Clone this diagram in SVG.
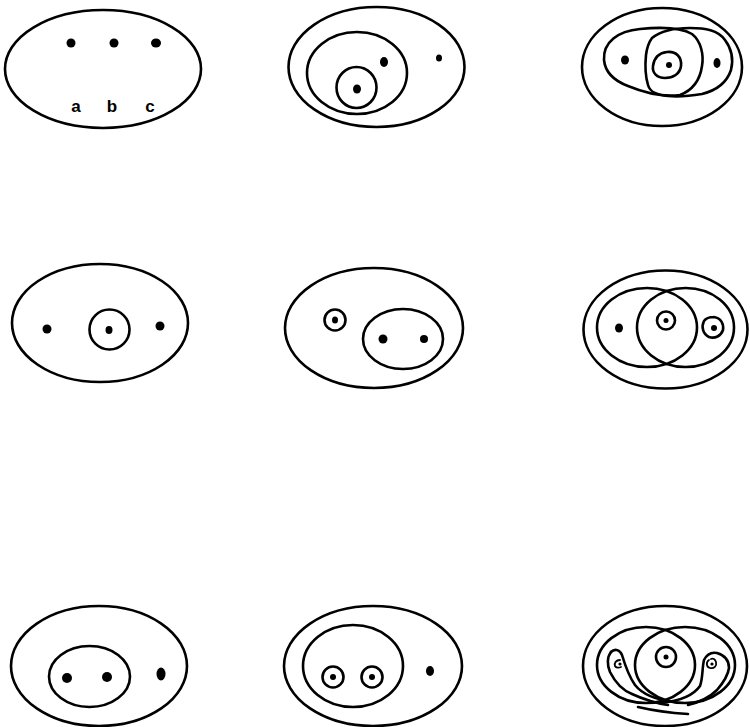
<svg xmlns="http://www.w3.org/2000/svg" width="750" height="727" viewBox="0 0 750 727">
<style>
.l{fill:none;stroke:#000;stroke-width:2.6;stroke-linecap:round;stroke-linejoin:round}
.t{fill:none;stroke:#000;stroke-width:1.8;stroke-linecap:round}
.d{fill:#000}
.lab{font-family:"Liberation Sans",Arial,sans-serif;font-size:17px;font-weight:bold;fill:#000}
</style>
<rect width="750" height="727" fill="#fff"/>
<g id="p1">
<ellipse class="l" cx="103" cy="69" rx="98" ry="59"/>
<ellipse class="d" cx="71" cy="43" rx="4.5" ry="4.5"/>
<ellipse class="d" cx="114" cy="43" rx="4.5" ry="4.5"/>
<ellipse class="d" cx="156" cy="43" rx="5" ry="4.5"/>
<text class="lab" x="76" y="112" text-anchor="middle">a</text>
<text class="lab" x="112" y="112" text-anchor="middle">b</text>
<text class="lab" x="150" y="112" text-anchor="middle">c</text>
</g>
<g id="p2">
<ellipse class="l" cx="376.5" cy="67" rx="88" ry="60"/>
<ellipse class="l" cx="357" cy="73" rx="50" ry="41"/>
<ellipse class="l" cx="356.5" cy="87.5" rx="20" ry="20.5"/>
<ellipse class="d" cx="357" cy="89" rx="4" ry="4.5"/>
<ellipse class="d" cx="384" cy="62" rx="4" ry="5"/>
<ellipse class="d" cx="439" cy="58" rx="3" ry="3.5"/>
</g>
<g id="p3">
<ellipse class="l" cx="662" cy="67" rx="80" ry="59"/>
<path class="l" d="M604,60 C603,42 618,31 640,29 C660,27 680,27 692,34 C701,41 704,55 702,66 C700,80 693,90 680,95 C665,97 645,93 628,86 C612,80 605,70 604,60 Z"/>
<path class="l" d="M652,38 C662,30 676,28 690,28 C705,28 718,30 725,40 C731,48 734,58 731,70 C727,82 718,90 702,94 C690,96 678,97 668,96 C656,95 650,92 648,85 C645,75 645,65 646,55 C647,47 649,42 652,38 Z"/>
<path class="l" d="M667,52 C676,51 682,57 681,66 C680,74 673,78 665,78 C657,78 652,73 653,66 C654,58 659,53 667,52 Z"/>
<ellipse class="d" cx="669" cy="65" rx="3" ry="3"/>
<ellipse class="d" cx="625" cy="60" rx="4" ry="4.5"/>
<ellipse class="d" cx="717" cy="63" rx="3.5" ry="5"/>
</g>
<g id="p4">
<ellipse class="l" cx="100" cy="323" rx="88" ry="59"/>
<circle class="l" cx="109.5" cy="329.5" r="20"/>
<ellipse class="d" cx="47" cy="329" rx="4.5" ry="4.5"/>
<ellipse class="d" cx="109" cy="330" rx="3.5" ry="4"/>
<ellipse class="d" cx="160" cy="326" rx="4.5" ry="4.5"/>
</g>
<g id="p5">
<ellipse class="l" cx="374" cy="328" rx="89" ry="60"/>
<circle class="l" cx="335" cy="320" r="10.5"/>
<ellipse class="d" cx="335" cy="320" rx="3" ry="3.5"/>
<ellipse class="l" cx="403" cy="339" rx="40" ry="30"/>
<ellipse class="d" cx="383" cy="339" rx="4.5" ry="4.5"/>
<ellipse class="d" cx="424" cy="339" rx="4" ry="4"/>
</g>
<g id="p6">
<ellipse class="l" cx="665.5" cy="329.5" rx="82" ry="59"/>
<ellipse class="l" cx="647" cy="327.5" rx="50" ry="39.5"/>
<ellipse class="l" cx="685.5" cy="327.5" rx="48.5" ry="39.5"/>
<circle class="l" cx="666" cy="320.5" r="9"/>
<ellipse class="d" cx="666" cy="320.5" rx="2.5" ry="2.5"/>
<ellipse class="d" cx="619" cy="328" rx="4" ry="4.5"/>
<path class="l" d="M714,317 C721,318 724,324 723,330 C721,336 715,339 709,337 C703,334 701,327 704,321 C706,318 710,317 714,317"/>
<ellipse class="d" cx="714" cy="328" rx="3" ry="3"/>
</g>
<g id="p7">
<ellipse class="l" cx="99" cy="666" rx="88" ry="60"/>
<ellipse class="l" cx="89.5" cy="676.5" rx="40.5" ry="30.5"/>
<ellipse class="d" cx="67" cy="678" rx="5" ry="5"/>
<ellipse class="d" cx="107" cy="677" rx="5" ry="5"/>
<ellipse class="d" cx="161" cy="674" rx="4.5" ry="6.5"/>
</g>
<g id="p8">
<ellipse class="l" cx="373" cy="666" rx="89" ry="60"/>
<ellipse class="l" cx="353" cy="666" rx="50" ry="41"/>
<circle class="l" cx="333" cy="677" r="10.5"/>
<ellipse class="d" cx="333" cy="677" rx="3" ry="3"/>
<circle class="l" cx="372" cy="677" r="10.5"/>
<ellipse class="d" cx="372" cy="677" rx="3" ry="3"/>
<ellipse class="d" cx="430" cy="671" rx="4" ry="5"/>
</g>
<g id="p9">
<ellipse class="l" cx="665" cy="666" rx="82" ry="60"/>
<ellipse class="l" cx="646" cy="665" rx="49" ry="38"/>
<ellipse class="l" cx="685" cy="665" rx="50" ry="38"/>
<circle class="l" cx="666" cy="657" r="10"/>
<ellipse class="d" cx="666" cy="657" rx="2.5" ry="2.5"/>
<path class="l" d="M611,652 C615,648 620,650 622,655 C625,665 628,675 635,685 C643,695 655,700 675,702"/>
<path class="l" d="M611,652 C607,657 607,665 610,672 C615,682 622,690 632,694 C645,700 655,703 668,705"/>
<path class="l" d="M638,707 C655,711 672,713 688,714"/>
<path class="l" d="M661,703 C680,701 693,696 700,686 C703,678 702,668 704,660 C707,654 712,652 717,653 C724,655 729,660 729,668 C728,676 723,683 717,690 C710,697 700,702 688,705"/>
<path class="t" d="M620,660 C616,660 614,663 615,666 C616,668 619,668 621,667"/>
<ellipse class="d" cx="620" cy="664" rx="1.6" ry="1.6"/>
<path class="t" d="M709,660 C706,662 706,667 710,668 C714,669 717,666 716,662 C715,659 713,658 711,659"/>
<ellipse class="d" cx="712" cy="664" rx="1.6" ry="1.6"/>
</g>
</svg>
